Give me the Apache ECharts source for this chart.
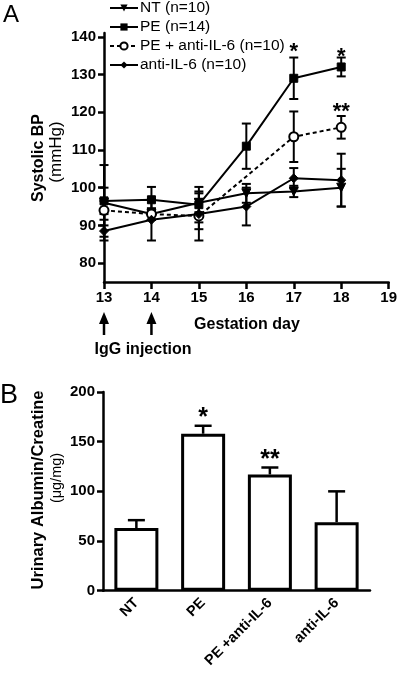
<!DOCTYPE html>
<html><head><meta charset="utf-8">
<script src="https://cdn.jsdelivr.net/npm/echarts@6/dist/echarts.min.js"></script>
<style>html,body{margin:0;padding:0;background:#fff}#c{width:400px;height:675px}</style>
</head><body><div id="c"></div>
<script>
// ---- Panel A data ----
const days = [13, 14, 15, 16, 17, 18];
const ntMean = [96, 93, 96, 98.5, 99, 100];
const ntErr = [10, 1.5, 2.5, 2.5, 1.5, 5];
const peMean = [96.5, 96.8, 95.5, 111, 129, 132];
const peErr = [3.5, 3.4, 4.7, 6, 5.5, 2.5];
const peAntiMean = [94, 93, 92.5, null, 113.5, 116];
const peAntiErr = [2.5, 1.5, 6.5, null, 6.7, 3];
const antiMean = [88.5, 91.5, 93, 95, 102.5, 102];
const antiErr = [1.5, 5.5, 4, 5, 2.7, 7];
const lineYTicks = [80, 90, 100, 110, 120, 130, 140];
const injectionDays = [13, 14];
const starsA = [[17, 136, '*'], [18, 134.7, '*'], [18, 120, '**']];
// ---- Panel B data ----
const barCats = ['NT', 'PE', 'PE +anti-IL-6', 'anti-IL-6'];
const barMean = [63, 158, 117, 69];
const barErr = [8, 8, 7, 31];
const starsB = [[1, 174, '*'], [2, 131, '**']];

const FONT = '"Liberation Sans", Arial, sans-serif';
const chart = echarts.init(document.getElementById('c'), null, {renderer: 'canvas'});

function pairs(mean) { return days.map((d, i) => [d, mean[i]]); }
function errData(mean, err) {
  const out = [];
  days.forEach((d, i) => { if (mean[i] != null) out.push([d, mean[i] - err[i], mean[i] + err[i]]); });
  return out;
}
const lineErrStyle = {stroke: '#000', lineWidth: 2};
function errRender(params, api) {
  const x = api.value(0), lo = api.value(1), hi = api.value(2);
  const p1 = api.coord([x, lo]), p2 = api.coord([x, hi]);
  const w = 4.5;
  return {type: 'group', children: [
    {type: 'line', shape: {x1: p1[0], y1: p1[1], x2: p2[0], y2: p2[1]}, style: lineErrStyle},
    {type: 'line', shape: {x1: p1[0] - w, y1: p1[1], x2: p1[0] + w, y2: p1[1]}, style: lineErrStyle},
    {type: 'line', shape: {x1: p2[0] - w, y1: p2[1], x2: p2[0] + w, y2: p2[1]}, style: lineErrStyle}
  ]};
}
function barErrRender(params, api) {
  const x = api.value(0), lo = api.value(1), hi = api.value(2);
  const p1 = api.coord([x, lo]), p2 = api.coord([x, hi]);
  const w = 8.5;
  const st = {stroke: '#000', lineWidth: 2.5};
  return {type: 'group', children: [
    {type: 'line', shape: {x1: p1[0], y1: p1[1], x2: p2[0], y2: p2[1]}, style: st},
    {type: 'line', shape: {x1: p2[0] - w, y1: p2[1], x2: p2[0] + w, y2: p2[1]}, style: st}
  ]};
}
function arrowRender(params, api) {
  const p = api.coord([api.value(0), 75]);
  const x = p[0], tip = p[1] + 30, base = p[1] + 53;
  return {type: 'group', children: [
    {type: 'line', shape: {x1: x, y1: tip + 8, x2: x, y2: base}, style: {stroke: '#000', lineWidth: 2.5}},
    {type: 'polygon', shape: {points: [[x, tip], [x - 5, tip + 12], [x + 5, tip + 12]]}, style: {fill: '#000'}}
  ]};
}
function starRender(size) {
  return function (params, api) {
    const p = api.coord([api.value(0), api.value(1)]);
    return {type: 'text', x: p[0], y: p[1], style: {
      text: api.value(2), fill: '#000', font: 'bold ' + size + 'px ' + FONT,
      align: 'center', verticalAlign: 'middle'}};
  };
}

const lineCommon = (name, data, symbol, extra) => Object.assign({
  name, type: 'line', xAxisIndex: 0, yAxisIndex: 0, data,
  symbol, symbolSize: 8, connectNulls: true,
  lineStyle: {color: '#000', width: 2},
  itemStyle: {color: '#000', borderColor: '#000'},
  z: 3
}, extra || {});

const boldLbl = {color: '#000', fontFamily: FONT, fontWeight: 'bold', fontSize: 15};

const option = {
  animation: false,
  backgroundColor: '#fff',
  textStyle: {fontFamily: FONT},
  legend: {
    orient: 'vertical', left: 109, top: 0, padding: 0, itemWidth: 28, itemHeight: 9, itemGap: 3,
    textStyle: {color: '#000', fontFamily: FONT, fontSize: 15.5, lineHeight: 16, padding: [0, 0, 0, -3]},
    data: ['NT (n=10)', 'PE (n=14)', 'PE + anti-IL-6 (n=10)', 'anti-IL-6 (n=10)']
  },
  grid: [
    {left: 104, right: 9, top: 33, height: 249},
    {left: 103, right: 30, top: 392, height: 198.7}
  ],
  xAxis: [
    {type: 'value', gridIndex: 0, min: 13, max: 19, interval: 1,
     axisLine: {lineStyle: {color: '#000', width: 2.5}},
     axisTick: {length: 7, lineStyle: {color: '#000', width: 2.5}},
     axisLabel: Object.assign({margin: 8}, boldLbl),
     splitLine: {show: false}},
    {type: 'category', gridIndex: 1, data: barCats,
     axisLine: {lineStyle: {color: '#000', width: 2.5}},
     axisTick: {alignWithLabel: true, length: 7, lineStyle: {color: '#000', width: 2.5}},
     axisLabel: Object.assign({}, boldLbl, {fontSize: 14.5, rotate: 45, margin: 10, interval: 0})}
  ],
  yAxis: [
    {type: 'value', gridIndex: 0, min: 75, max: 141,
     axisLine: {show: true, lineStyle: {color: '#000', width: 2.5}},
     axisTick: {show: true, length: 6, customValues: lineYTicks, lineStyle: {color: '#000', width: 2.5}},
     axisLabel: Object.assign({margin: 8, customValues: lineYTicks}, boldLbl),
     splitLine: {show: false}},
    {type: 'value', gridIndex: 1, min: 0, max: 200, interval: 50,
     axisLine: {show: true, lineStyle: {color: '#000', width: 2.5}},
     axisTick: {show: true, length: 6, lineStyle: {color: '#000', width: 2.5}},
     axisLabel: Object.assign({margin: 8}, boldLbl),
     splitLine: {show: false}}
  ],
  series: [
    {type: 'custom', name: 'errNT', xAxisIndex: 0, yAxisIndex: 0, renderItem: errRender, data: errData(ntMean, ntErr), encode: {x: 0, y: [1, 2]}, z: 2},
    {type: 'custom', name: 'errPE', xAxisIndex: 0, yAxisIndex: 0, renderItem: errRender, data: errData(peMean, peErr), encode: {x: 0, y: [1, 2]}, z: 2},
    {type: 'custom', name: 'errPEA', xAxisIndex: 0, yAxisIndex: 0, renderItem: errRender, data: errData(peAntiMean, peAntiErr), encode: {x: 0, y: [1, 2]}, z: 2},
    {type: 'custom', name: 'errA', xAxisIndex: 0, yAxisIndex: 0, renderItem: errRender, data: errData(antiMean, antiErr), encode: {x: 0, y: [1, 2]}, z: 2},
    lineCommon('NT (n=10)', pairs(ntMean), 'triangle', {symbolRotate: 180, symbolSize: 9}),
    lineCommon('PE (n=14)', pairs(peMean), 'rect', {symbolSize: 8}),
    lineCommon('PE + anti-IL-6 (n=10)', pairs(peAntiMean), 'circle', {
      symbolSize: 9, lineStyle: {color: '#000', width: 2, type: [4, 3]},
      itemStyle: {color: '#fff', borderColor: '#000', borderWidth: 2}}),
    lineCommon('anti-IL-6 (n=10)', pairs(antiMean), 'diamond', {symbolSize: 9}),
    {type: 'custom', xAxisIndex: 0, yAxisIndex: 0, renderItem: starRender(22), data: starsA,
     encode: {x: 0, y: 1}, clip: false, silent: true, z: 5},
    {type: 'custom', xAxisIndex: 0, yAxisIndex: 0, renderItem: arrowRender, data: injectionDays.map(d => [d]), encode: {x: 0}, clip: false, silent: true},
    {type: 'bar', xAxisIndex: 1, yAxisIndex: 1, data: barMean, barWidth: 44,
     itemStyle: {color: '#fff', borderColor: '#000', borderWidth: 3}},
    {type: 'custom', xAxisIndex: 1, yAxisIndex: 1, renderItem: barErrRender,
     data: barMean.map((m, i) => [i, m, m + barErr[i]]), encode: {x: 0, y: [1, 2]}, z: 3},
    {type: 'custom', xAxisIndex: 1, yAxisIndex: 1, renderItem: starRender(25), data: starsB,
     encode: {x: 0, y: 1}, clip: false, silent: true, z: 5}
  ],
  graphic: [
    {type: 'text', left: 3, top: 3, style: {text: 'A', font: '24px ' + FONT, fill: '#000'}},
    {type: 'text', left: 0, top: 382, style: {text: 'B', font: '27px ' + FONT, fill: '#000'}},
    {type: 'text', x: 39, y: 158, rotation: Math.PI / 2, style: {text: 'Systolic BP', font: 'bold 16px ' + FONT, fill: '#000', align: 'center', verticalAlign: 'middle'}},
    {type: 'text', x: 56, y: 152, rotation: Math.PI / 2, style: {text: '(mmHg)', font: '17px ' + FONT, fill: '#000', align: 'center', verticalAlign: 'middle'}},
    {type: 'text', x: 247, y: 325, style: {text: 'Gestation day', font: 'bold 16px ' + FONT, fill: '#000', align: 'center', verticalAlign: 'middle'}},
    {type: 'text', x: 143, y: 350, style: {text: 'IgG injection', font: 'bold 16px ' + FONT, fill: '#000', align: 'center', verticalAlign: 'middle'}},
    {type: 'text', x: 38, y: 490, rotation: Math.PI / 2, style: {text: 'Urinary Albumin/Creatine', font: 'bold 16.5px ' + FONT, fill: '#000', align: 'center', verticalAlign: 'middle'}},
    {type: 'text', x: 57, y: 478, rotation: Math.PI / 2, style: {text: '(μg/mg)', font: '14.5px ' + FONT, fill: '#000', align: 'center', verticalAlign: 'middle'}}
  ]
};
chart.setOption(option);
</script>
</body></html>
